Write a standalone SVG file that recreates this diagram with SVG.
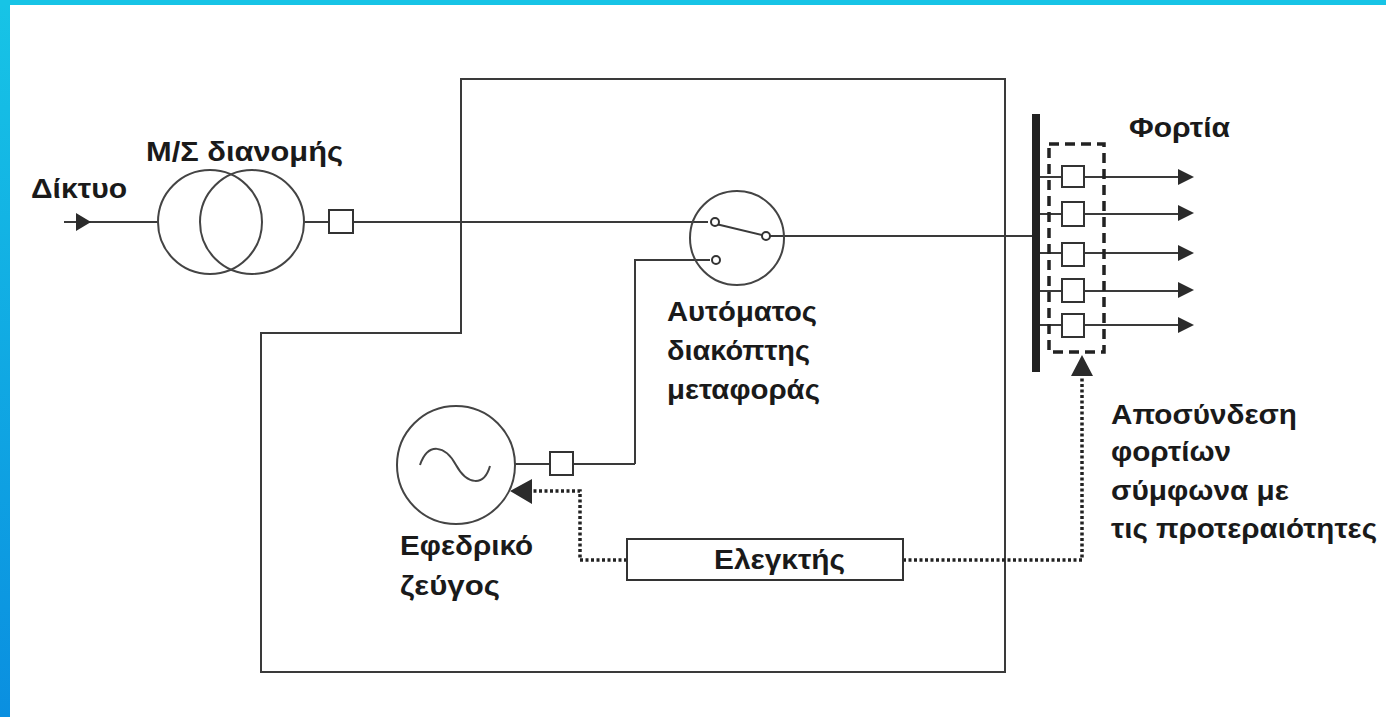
<svg xmlns="http://www.w3.org/2000/svg" width="1386" height="717" viewBox="0 0 1386 717">
<style>
.l{fill:none;stroke:#3a3a3a;stroke-width:2}
.b{fill:#fff;stroke:#333;stroke-width:2}
.c{fill:none;stroke:#444;stroke-width:2}
.t{font-family:"Liberation Sans",Arial,sans-serif;font-size:28px;font-weight:bold;fill:#1a1a1a}
.d{fill:none;stroke:#222;stroke-width:3.5;stroke-dasharray:3 2.5}
.a{fill:#2b2b2b}
</style>
<defs>
<linearGradient id="g" x1="0" y1="0" x2="0" y2="1"><stop offset="0" stop-color="#17c4e6"/><stop offset="1" stop-color="#0a8fe0"/></linearGradient>
</defs>
<rect id="background" width="1386" height="717" fill="#fff"/>
<rect width="10" height="717" fill="url(#g)"/>
<rect width="1386" height="5" fill="#17c4e6"/>
<g id="connectors">
<path class="l" d="M461 79H1005V672H261V333H461Z"/>
<path class="l" d="M64 222H158M304 222H329M352 222H708M768 236H1034"/>
<path class="l" d="M635 464V260H710M515 464H550M573 464H635"/>
<path class="l" d="M716 224L766 236"/>
<path class="l" d="M1038 177H1062M1084 177H1180M1038 214H1062M1084 214H1180M1038 253H1062M1084 253H1180M1038 291H1062M1084 291H1180M1038 325H1062M1084 325H1180"/>
<path class="d" d="M627 560H580V491H530"/>
<path class="d" d="M903 560H1082V378"/>
<path class="a" d="M76 213L91 222L76 231ZM1178 169L1194 177L1178 185ZM1178 205L1194 213L1178 221ZM1178 245L1194 253L1178 261ZM1178 282L1194 290L1178 298ZM1178 317L1194 325L1178 333ZM1071 376L1082 355L1093 376ZM510 491L532 479V504Z"/>
<path fill="none" stroke="#222" stroke-width="3.5" stroke-dasharray="10 6" d="M1049 144H1104V352H1049Z"/>
<rect x="1032" y="114" width="8" height="258" fill="#222"/>
</g>
<g id="transformer"><circle class="c" cx="210" cy="222" r="52"/><circle class="c" cx="252" cy="222" r="52"/></g>
<g id="breaker-main"><rect class="b" x="329" y="210" width="24" height="23"/></g>
<g id="transfer-switch"><circle class="c" cx="737" cy="238" r="47"/>
<circle class="b" cx="715" cy="222" r="4"/><circle class="b" cx="766" cy="236" r="4"/><circle class="b" cx="716" cy="260" r="4"/></g>
<g id="generator"><circle class="c" cx="456" cy="465" r="59"/><path class="c" d="M420 465C428 442 445 445 456 465S484 487 490 466"/></g>
<g id="breaker-gen"><rect class="b" x="550" y="452" width="23" height="23"/></g>
<g id="controller"><rect class="b" x="627" y="539" width="276" height="41"/><text class="t" x="714" y="569" textLength="131" lengthAdjust="spacingAndGlyphs">Ελεγκτής</text></g>
<g id="load-breakers">
<rect class="b" x="1062" y="166" width="22" height="21"/><rect class="b" x="1062" y="202" width="22" height="24"/><rect class="b" x="1062" y="243" width="22" height="23"/><rect class="b" x="1062" y="279" width="22" height="23"/><rect class="b" x="1062" y="314" width="22" height="23"/>
</g>
<g id="labels">
<text class="t" x="31" y="198" textLength="96" lengthAdjust="spacingAndGlyphs">Δίκτυο</text>
<text class="t" x="146" y="161" textLength="197" lengthAdjust="spacingAndGlyphs">Μ/Σ διανομής</text>
<text class="t" x="1129" y="137" textLength="101" lengthAdjust="spacingAndGlyphs">Φορτία</text>
<text class="t" x="667" y="321" textLength="150" lengthAdjust="spacingAndGlyphs">Αυτόματος</text>
<text class="t" x="667" y="360" textLength="143" lengthAdjust="spacingAndGlyphs">διακόπτης</text>
<text class="t" x="667" y="399" textLength="153" lengthAdjust="spacingAndGlyphs">μεταφοράς</text>
<text class="t" x="400" y="555" textLength="133" lengthAdjust="spacingAndGlyphs">Εφεδρικό</text>
<text class="t" x="400" y="595" textLength="100" lengthAdjust="spacingAndGlyphs">ζεύγος</text>
<text class="t" x="1111" y="424" textLength="186" lengthAdjust="spacingAndGlyphs">Αποσύνδεση</text>
<text class="t" x="1111" y="461" textLength="120" lengthAdjust="spacingAndGlyphs">φορτίων</text>
<text class="t" x="1111" y="500" textLength="178" lengthAdjust="spacingAndGlyphs">σύμφωνα με</text>
<text class="t" x="1111" y="538" textLength="266" lengthAdjust="spacingAndGlyphs">τις προτεραιότητες</text>
</g>
</svg>
